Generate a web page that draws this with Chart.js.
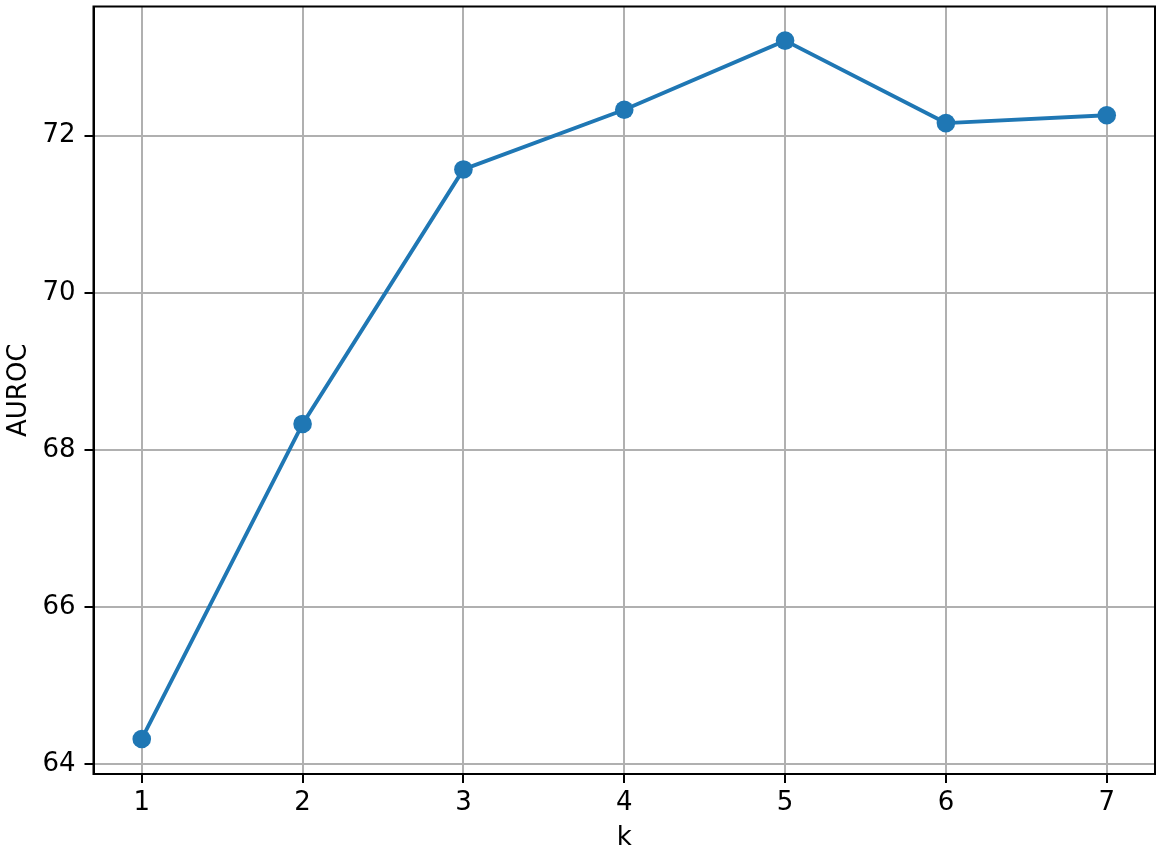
<!DOCTYPE html>
<html>
<head>
<meta charset="utf-8">
<script src="https://cdn.jsdelivr.net/npm/chart.js@4.4.1/dist/chart.umd.min.js"></script>
<style>
  html, body { margin: 0; padding: 0; background: #fff; }
  #wrap { width: 1163px; height: 856px; position: relative; }
</style>
</head>
<body>
<div id="wrap"><canvas id="c" width="1163" height="856"></canvas></div>
<script>
const kValues = [1, 2, 3, 4, 5, 6, 7];
const aurocValues = [64.32, 68.33, 71.57, 72.33, 73.21, 72.16, 72.26];
const xTickValues = [1, 2, 3, 4, 5, 6, 7];
const yTickValues = [64, 66, 68, 70, 72];
const xLabel = 'k';
const yLabel = 'AUROC';

const FONT = "'DejaVu Sans', sans-serif";

const frame = {
  id: 'frame',
  afterDraw(chart) {
    const a = chart.chartArea, ctx = chart.ctx;
    ctx.save();
    ctx.strokeStyle = '#000';
    ctx.lineWidth = 2;
    ctx.strokeRect(a.left, a.top, a.right - a.left, a.bottom - a.top);
    ctx.restore();
  }
};

function zeroPad(s) {
  s.paddingTop = 0; s.paddingBottom = 0; s.paddingLeft = 0; s.paddingRight = 0;
}

new Chart(document.getElementById('c'), {
  type: 'line',
  data: {
    datasets: [{
      data: kValues.map((k, i) => ({ x: k, y: aurocValues[i] })),
      borderColor: '#1f77b4',
      backgroundColor: '#1f77b4',
      borderWidth: 3.9,
      pointRadius: 9.3,
      pointHoverRadius: 9.3,
      pointBorderWidth: 0,
      tension: 0,
      fill: false,
      clip: false
    }]
  },
  options: {
    responsive: false,
    animation: false,
    events: [],
    layout: { autoPadding: false, padding: { top: 6.5, right: 8, left: 0, bottom: 0 } },
    plugins: { legend: { display: false }, tooltip: { enabled: false } },
    scales: {
      x: {
        type: 'linear',
        min: 0.7,
        max: 7.3,
        afterBuildTicks: s => { s.ticks = xTickValues.map(v => ({ value: v })); },
        afterFit: s => { s.height = 82; zeroPad(s); },
        grid: { color: '#b0b0b0', lineWidth: 2, tickColor: '#000', tickLength: 9, drawTicks: true },
        border: { display: true, color: '#000', width: 2 },
        ticks: { color: '#000', font: { family: FONT, size: 26 }, padding: 5, maxRotation: 0, autoSkip: false,
                 callback: v => String(v) },
        title: { display: true, text: xLabel, color: '#000', font: { family: FONT, size: 26 }, padding: { top: 2, bottom: 2 } }
      },
      y: {
        type: 'linear',
        min: 63.874,
        max: 73.644,
        afterBuildTicks: s => { s.ticks = yTickValues.map(v => ({ value: v })); },
        afterFit: s => { s.width = 93.5; zeroPad(s); },
        grid: { color: '#b0b0b0', lineWidth: 2, tickColor: '#000', tickLength: 9, drawTicks: true },
        border: { display: true, color: '#000', width: 2 },
        ticks: { color: '#000', font: { family: FONT, size: 26 }, padding: 9, autoSkip: false,
                 callback: v => String(v) },
        title: { display: true, text: yLabel, color: '#000', font: { family: FONT, size: 26 }, padding: { top: 4, bottom: 4 } }
      }
    }
  },
  plugins: [frame]
});
</script>
</body>
</html>
